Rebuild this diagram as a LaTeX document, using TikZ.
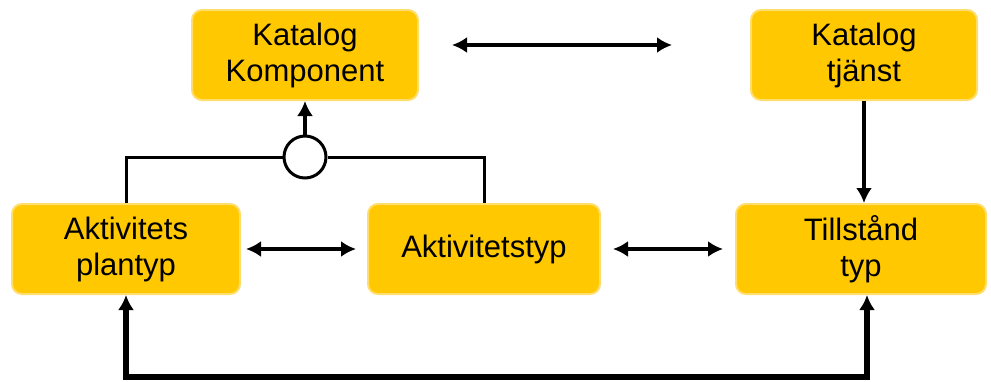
\documentclass[tikz,border=0pt]{standalone}
\usepackage{fontspec}
\setmainfont{Liberation Sans}
\usetikzlibrary{arrows.meta}
\definecolor{boxgold}{RGB}{255,200,0}
\definecolor{boxedge}{RGB}{255,222,110}
\tikzset{
  box/.style={draw=boxedge, line width=1pt, fill=boxgold, rounded corners=5pt,
              minimum height=45pt, align=center, font=\fontsize{15.5pt}{18pt}\selectfont},
  link/.style={line width=2.2pt, -{Latex[length=7.5pt,width=8pt]}},
  twoway/.style={line width=2.4pt, {Latex[length=7.5pt,width=8pt]}-{Latex[length=7.5pt,width=8pt]}},
  wire/.style={line width=1.5pt}
}
\begin{document}
\begin{tikzpicture}[x=0.5pt, y=-0.5pt]
\useasboundingbox (0,0) rectangle (991,381);
\node[box, minimum width=113pt] (kk) at (305,55)  {Katalog\\Komponent};
\node[box, minimum width=113pt] (kt) at (864,55)  {Katalog\\tjänst};
\node[box, minimum width=114pt] (ap) at (126,249) {Aktivitets\\plantyp};
\node[box, minimum width=116pt] (at) at (484,249) {Aktivitetstyp};
\node[box, minimum width=125pt] (tt) at (861,249) {Tillstånd\\typ};
\node[draw, circle, line width=1.5pt, fill=white, minimum size=21pt, inner sep=0pt] (or) at (305,157) {};
\coordinate (kl) at (452,45);
\coordinate (kr) at (672,45);
% circle joins the two activity boxes
\draw[wire] (ap.north) |- (or.west);
\draw[wire] (or.east) -| (at.north);
\draw[link] (or.north) -- (kk.south);
\draw[twoway] (kl) -- (kr);
\draw[twoway] ([xshift=2.5pt]ap.east) -- ([xshift=-5.5pt]at.west);
\draw[twoway] ([xshift=6pt]at.east) -- ([xshift=-6pt]tt.west);
\draw[link] (kt.south) -- (kt.south |- tt.north);
\draw[twoway, line width=2.6pt] (ap.south) -- ++(0,82) -| ([xshift=3pt]tt.south);
\end{tikzpicture}
\end{document}
